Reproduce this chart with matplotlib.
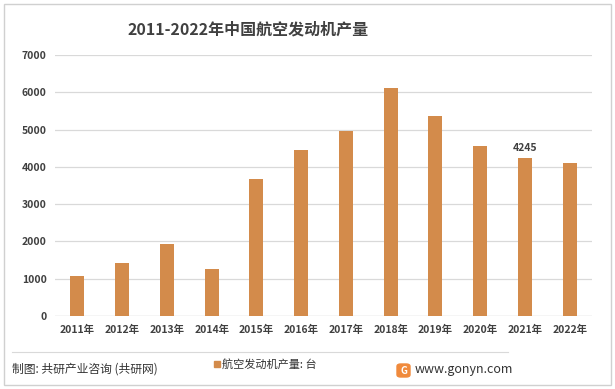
import matplotlib.pyplot as plt
from matplotlib.patches import Rectangle, FancyBboxPatch

plt.rcParams['font.family'] = ['Noto Sans CJK SC', 'DejaVu Sans']

# --- data ---
years = ['2011年', '2012年', '2013年', '2014年', '2015年', '2016年',
         '2017年', '2018年', '2019年', '2020年', '2021年', '2022年']
output = [1070, 1420, 1930, 1260, 3670, 4450, 4960, 6110, 5360, 4560, 4245, 4110]
labelled_year = '2021年'

bar_color = '#D38B4B'
text_color = '#404040'

fig = plt.figure(figsize=(6.15, 3.89), dpi=100)
ax = fig.add_axes([0.0894, 0.1877, 0.8732, 0.6709])

x = range(len(years))
ax.bar(x, output, width=0.31, color=bar_color, zorder=3)

ax.set_xlim(-0.5, len(years) - 0.5)
ax.set_ylim(0, 7000)
ax.set_yticks(range(0, 7001, 1000))
ax.set_xticks(list(x))
ax.set_xticklabels(years)
ax.tick_params(axis='both', length=0, labelsize=7.5, colors=text_color, pad=6)
for lab in ax.get_xticklabels() + ax.get_yticklabels():
    lab.set_fontweight('bold')
ax.grid(axis='y', color='#D9D9D9', linewidth=0.9, zorder=0)
for s in ax.spines.values():
    s.set_visible(False)
ax.axhline(0, color='#D9D9D9', linewidth=0.9, zorder=1)

i = years.index(labelled_year)
ax.text(i, output[i] + 120, str(output[i]), ha='center', va='bottom',
        fontsize=7.5, fontweight='bold', color=text_color)

# title
fig.text(0.404, 0.925, '2011-2022年中国航空发动机产量', ha='center', va='center',
         fontsize=11.5, fontweight='bold', color=text_color)

# outer frame
fig.add_artist(Rectangle((4 / 615, 4 / 389), 607 / 615, 381 / 389,
                         transform=fig.transFigure, fill=False,
                         edgecolor='#D0D0D0', linewidth=1))

# footer separator
fig.add_artist(plt.Line2D([12 / 615, 508 / 615], [1 - 352 / 389] * 2,
                          transform=fig.transFigure, color='#D9D9D9', linewidth=0.8))

fig.text(12 / 615, 1 - 369 / 389, '制图: 共研产业咨询 (共研网)', ha='left', va='center',
         fontsize=8.5, color='#333333')

# legend
fig.add_artist(Rectangle((214 / 615, 1 - 367 / 389), 6 / 615, 6 / 389,
                         transform=fig.transFigure, color=bar_color))
fig.text(222 / 615, 1 - 364 / 389, '航空发动机产量: 台', ha='left', va='center',
         fontsize=8, color='#333333')

# logo + url
fig.add_artist(FancyBboxPatch((397 / 615, 1 - 377 / 389), 13 / 615, 13 / 389,
                              boxstyle='round,pad=0,rounding_size=0.006',
                              transform=fig.transFigure, color='#F08A3C'))
fig.text(403.5 / 615, 1 - 370.5 / 389, 'G', ha='center', va='center',
         fontsize=7, fontweight='bold', color='white')
fig.text(415 / 615, 1 - 369 / 389, 'www.gonyn.com', ha='left', va='center',
         fontsize=9, color='#333333')

fig.savefig('out.png', dpi=100)
